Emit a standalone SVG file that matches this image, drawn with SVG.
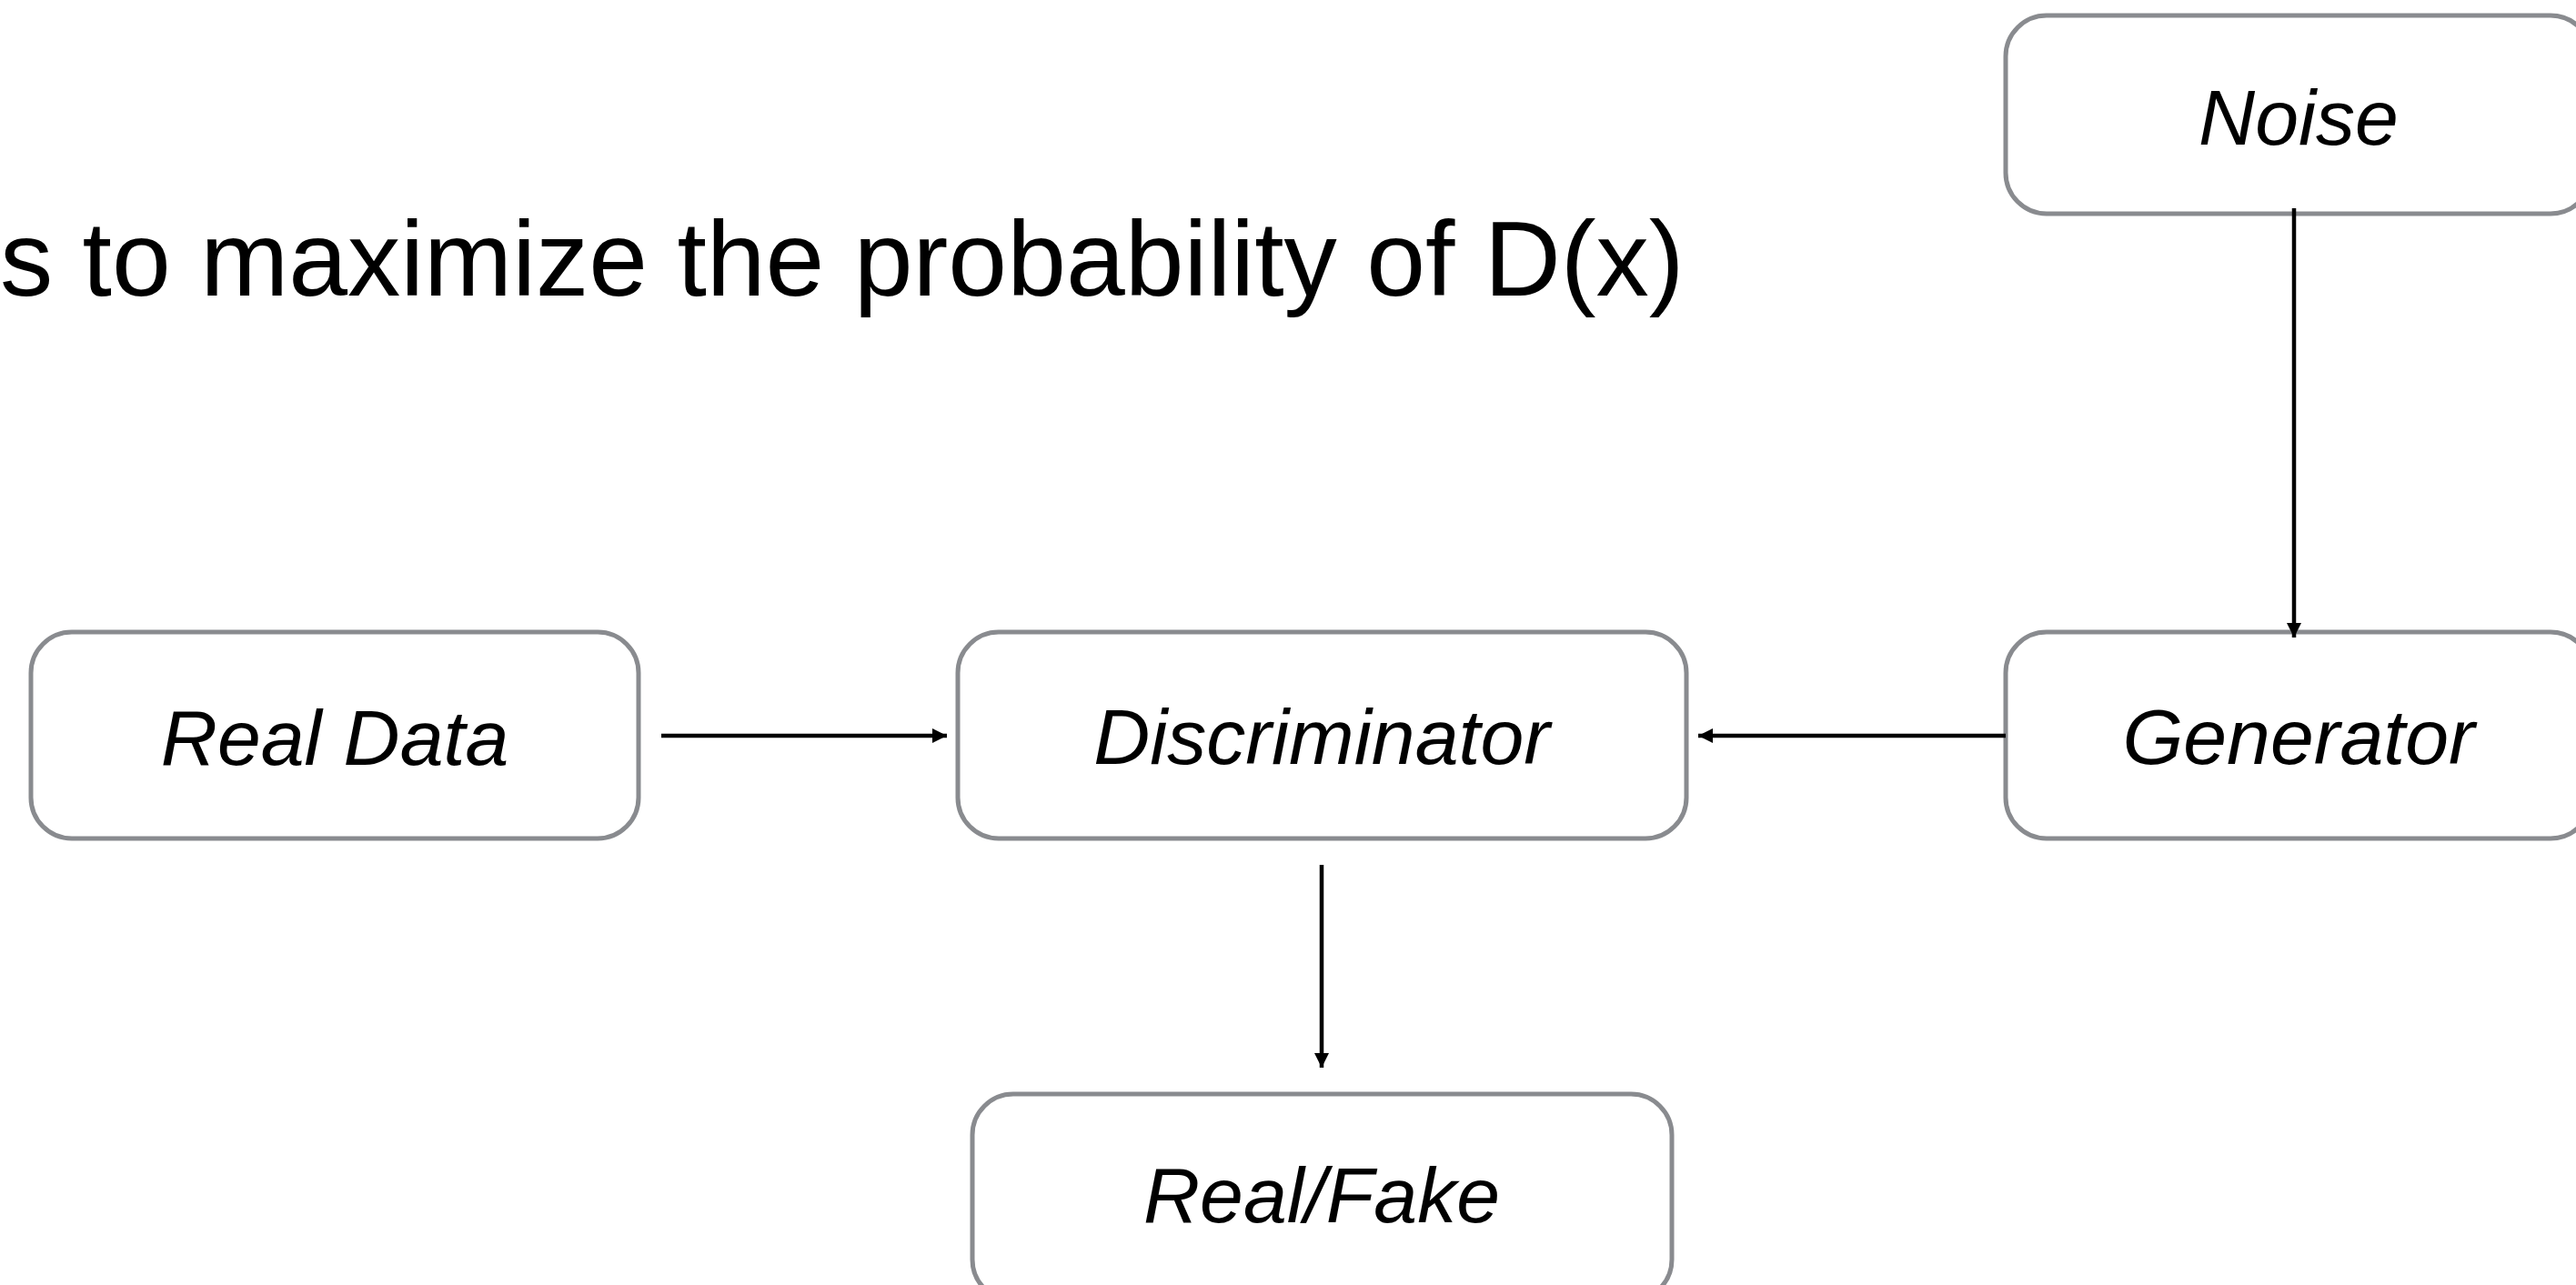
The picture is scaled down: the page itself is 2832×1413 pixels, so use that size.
<svg xmlns="http://www.w3.org/2000/svg" width="2832" height="1413" viewBox="0 0 2832 1413">
  <style>
    .box { fill: #ffffff; stroke: #898b8f; stroke-width: 5; }
    .label { font-family: "Liberation Sans", Arial, sans-serif; font-style: italic; font-size: 86px; fill: #000000; text-anchor: middle; }
    .title { font-family: "Liberation Sans", Arial, sans-serif; font-size: 116.5px; fill: #000000; }
    .edge { fill: none; stroke: #000000; stroke-width: 4.5; }
  </style>
  <defs>
    <marker id="arrow" viewBox="0 0 16 16" refX="16" refY="8" markerWidth="16" markerHeight="16" markerUnits="userSpaceOnUse" orient="auto">
      <path d="M0,0 L16,8 L0,16 Z" fill="#000000"/>
    </marker>
  </defs>
  <rect width="2832" height="1413" fill="#ffffff"/>

  <text class="title" x="0" y="325">s to maximize the probability of D(x)</text>

  <g id="node-noise">
    <rect class="box" x="2205" y="17" width="644" height="218" rx="45" ry="45"/>
    <text class="label" x="2527" y="159">Noise</text>
  </g>
  <g id="node-real-data">
    <rect class="box" x="34" y="695" width="668" height="227" rx="45" ry="45"/>
    <text class="label" x="368" y="841">Real Data</text>
  </g>
  <g id="node-discriminator">
    <rect class="box" x="1053" y="695" width="801" height="227" rx="45" ry="45"/>
    <text class="label" x="1453" y="840">Discriminator</text>
  </g>
  <g id="node-generator">
    <rect class="box" x="2205" y="695" width="644" height="227" rx="45" ry="45"/>
    <text class="label" x="2527" y="840">Generator</text>
  </g>
  <g id="node-real-fake">
    <rect class="box" x="1069" y="1203" width="769" height="227" rx="45" ry="45"/>
    <text class="label" x="1453" y="1344">Real/Fake</text>
  </g>

  <g id="connectors">
    <line class="edge" x1="727" y1="809" x2="1041" y2="809" marker-end="url(#arrow)"/>
    <line class="edge" x1="2205" y1="809" x2="1867" y2="809" marker-end="url(#arrow)"/>
    <line class="edge" x1="2522" y1="229" x2="2522" y2="701" marker-end="url(#arrow)"/>
    <line class="edge" x1="1453" y1="951" x2="1453" y2="1174" marker-end="url(#arrow)"/>
  </g>
</svg>
